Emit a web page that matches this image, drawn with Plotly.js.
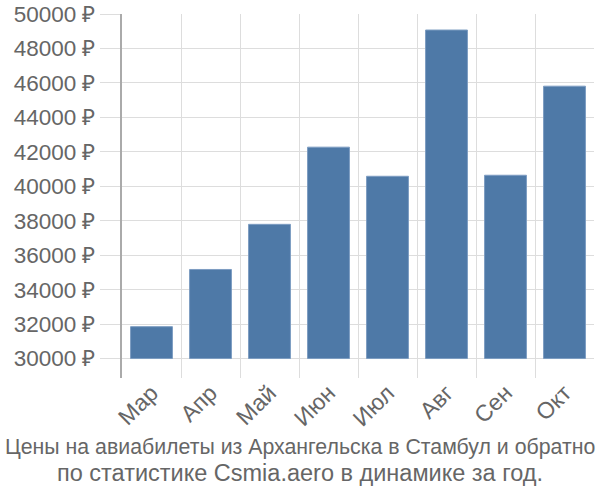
<!DOCTYPE html>
<html>
<head>
<meta charset="utf-8">
<script src="https://cdn.plot.ly/plotly-3.0.1.min.js"></script>
<style>html,body{margin:0;padding:0;background:#fff;}#chart{width:600px;height:500px;}</style>
</head>
<body>
<div id="chart"></div>
<script>
const months = ["Мар","Апр","Май","Июн","Июл","Авг","Сен","Окт"];
const prices = [31850, 35170, 37790, 42270, 40580, 49070, 40640, 45810];
const yTicks = [30000,32000,34000,36000,38000,40000,42000,44000,46000,48000,50000];
const BASE = 30000;
const titleLine1 = "Цены на авиабилеты из Архангельска в Стамбул и обратно";
const titleLine2 = "по статистике Csmia.aero в динамике за год.";

const font = "Liberation Sans, Arial, sans-serif";
Plotly.newPlot("chart", [{
  type: "bar",
  x: months,
  y: prices.map(v => v - BASE),
  base: BASE,
  marker: {color: "#4e79a7", line: {color: "#7d9dc2", width: 1}},
  hoverinfo: "none"
}], {
  width: 600, height: 500,
  margin: {l: 122, r: 6, t: 14, b: 122},
  paper_bgcolor: "#fff", plot_bgcolor: "#fff",
  bargap: 0.29,
  showlegend: false,
  font: {family: font, color: "#666"},
  xaxis: {
    type: "category",
    tickson: "boundaries",
    showgrid: true, gridcolor: "#dddddd", gridwidth: 1,
    ticks: "", tickangle: -45,
    ticklabelstandoff: -4,
    tickfont: {size: 23, color: "#666", family: font},
    showline: false, zeroline: false
  },
  yaxis: {
    range: [28870, 50000],
    tickvals: yTicks,
    ticktext: yTicks.map(v => v + " ₽"),
    showgrid: true, gridcolor: "#dddddd", gridwidth: 1,
    ticks: "outside", ticklen: 20, tickcolor: "#dddddd",
    tickfont: {size: 22.5, color: "#666", family: font},
    showline: true, linecolor: "#aaaaaa", linewidth: 2,
    zeroline: false
  },
  annotations: [{
    text: titleLine1, showarrow: false,
    xref: "paper", yref: "paper", x: 0.5, xanchor: "center",
    y: -0.1896, yanchor: "middle", xshift: -58,
    font: {size: 21.3, color: "#666", family: font}
  }, {
    text: titleLine2, showarrow: false,
    xref: "paper", yref: "paper", x: 0.5, xanchor: "center",
    y: -0.261, yanchor: "middle", xshift: -58,
    font: {size: 23.5, color: "#666", family: font}
  }]
}, {displayModeBar: false, staticPlot: true});
</script>
</body>
</html>
